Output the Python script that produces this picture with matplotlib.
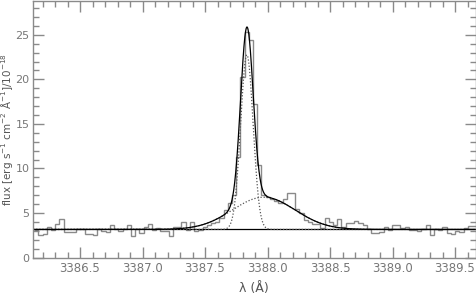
import numpy as np
import matplotlib
matplotlib.use("Agg")
import matplotlib.pyplot as plt
from matplotlib.ticker import MultipleLocator

# ---- data ----
bin_start = 3386.133
bin_width = 0.03368
flux = [3.1, 2.55, 2.65, 3.37, 3.1, 3.75, 4.3, 2.9, 2.9, 2.9,
        3.25, 3.25, 2.65, 2.65, 2.55, 3.2, 3.0, 2.9, 3.67, 3.2,
        3.0, 3.25, 3.67, 2.47, 3.2, 2.8, 3.4, 3.75, 3.1, 3.3,
        3.03, 3.03, 2.36, 3.4, 3.4, 4.0, 3.1, 4.0, 3.0, 3.1,
        3.4, 3.6, 3.9, 4.0, 4.4, 5.35, 6.1, 7.0, 11.3, 20.3,
        25.3, 24.4, 17.2, 10.4, 7.0, 6.8, 6.6, 6.4, 6.1, 6.6,
        7.2, 7.2, 5.5, 5.0, 4.2, 4.0, 3.8, 3.8, 3.3, 4.4,
        4.0, 3.67, 4.3, 3.48, 3.85, 3.85, 4.15, 3.9, 3.67, 3.19,
        2.8, 2.8, 2.9, 3.4, 3.1, 3.67, 3.67, 3.3, 3.4, 3.1,
        3.1, 3.0, 3.2, 3.6, 2.55, 3.2, 3.1, 3.4, 2.8, 2.65,
        3.0, 2.9, 3.3, 3.5, 3.5]

continuum = 3.15
narrow_center, narrow_amp, narrow_sigma = 3387.835, 19.6, 0.050
broad_center, broad_amp, broad_sigma = 3387.97, 3.62, 0.25

xmin, xmax = 3386.124, 3389.664
ymin, ymax = 0.0, 28.8

edges = bin_start + bin_width * np.arange(len(flux) + 1)
wl = np.linspace(xmin, xmax, 2000)
narrow = continuum + narrow_amp * np.exp(-0.5 * ((wl - narrow_center) / narrow_sigma) ** 2)
broad = continuum + broad_amp * np.exp(-0.5 * ((wl - broad_center) / broad_sigma) ** 2)
total = narrow + broad - continuum

fig = plt.figure(figsize=(4.76, 2.94), dpi=100)
ax = fig.add_axes([33 / 476, 1 - 257.5 / 294, 442.5 / 476, 256.5 / 294])

gray = "#8a8a8a"
ax.stairs(flux, edges, color=gray, linewidth=1.0, baseline=None)
ax.plot([xmin, xmax], [continuum, continuum], color="black", linewidth=0.9)
ax.plot(wl, narrow, color="#555555", linewidth=0.9, linestyle=(0, (1, 1.5)))
ax.plot(wl, broad, color="#555555", linewidth=0.9, linestyle=(0, (1, 1.5)))
ax.plot(wl, total, color="black", linewidth=0.9)

ax.set_xlim(xmin, xmax)
ax.set_ylim(ymin, ymax)
ax.xaxis.set_major_locator(MultipleLocator(0.5))
ax.xaxis.set_minor_locator(MultipleLocator(0.1))
ax.yaxis.set_major_locator(MultipleLocator(5))
ax.yaxis.set_minor_locator(MultipleLocator(1))
ax.xaxis.set_major_formatter(matplotlib.ticker.FormatStrFormatter("%.1f"))
ax.tick_params(which="both", direction="in", top=True, right=True, color=gray,
               labelcolor="#777777", labelsize=8.5, width=1.0)
ax.tick_params(axis="y", labelsize=8, pad=2.5)
ax.tick_params(which="major", length=8)
ax.tick_params(which="minor", length=4)
for s in ax.spines.values():
    s.set_color(gray)
    s.set_linewidth(1.0)

ax.set_xlabel("λ (Å)", color="#555555", fontsize=9)
ax.xaxis.set_label_coords(0.5, -0.095)
ax.set_ylabel("flux [erg s$^{-1}$ cm$^{-2}$ Å$^{-1}$]/10$^{-18}$", color="#555555",
              fontsize=7.5)
ax.yaxis.set_label_coords(-0.041, 0.5)

fig.savefig("out.png", dpi=100)
